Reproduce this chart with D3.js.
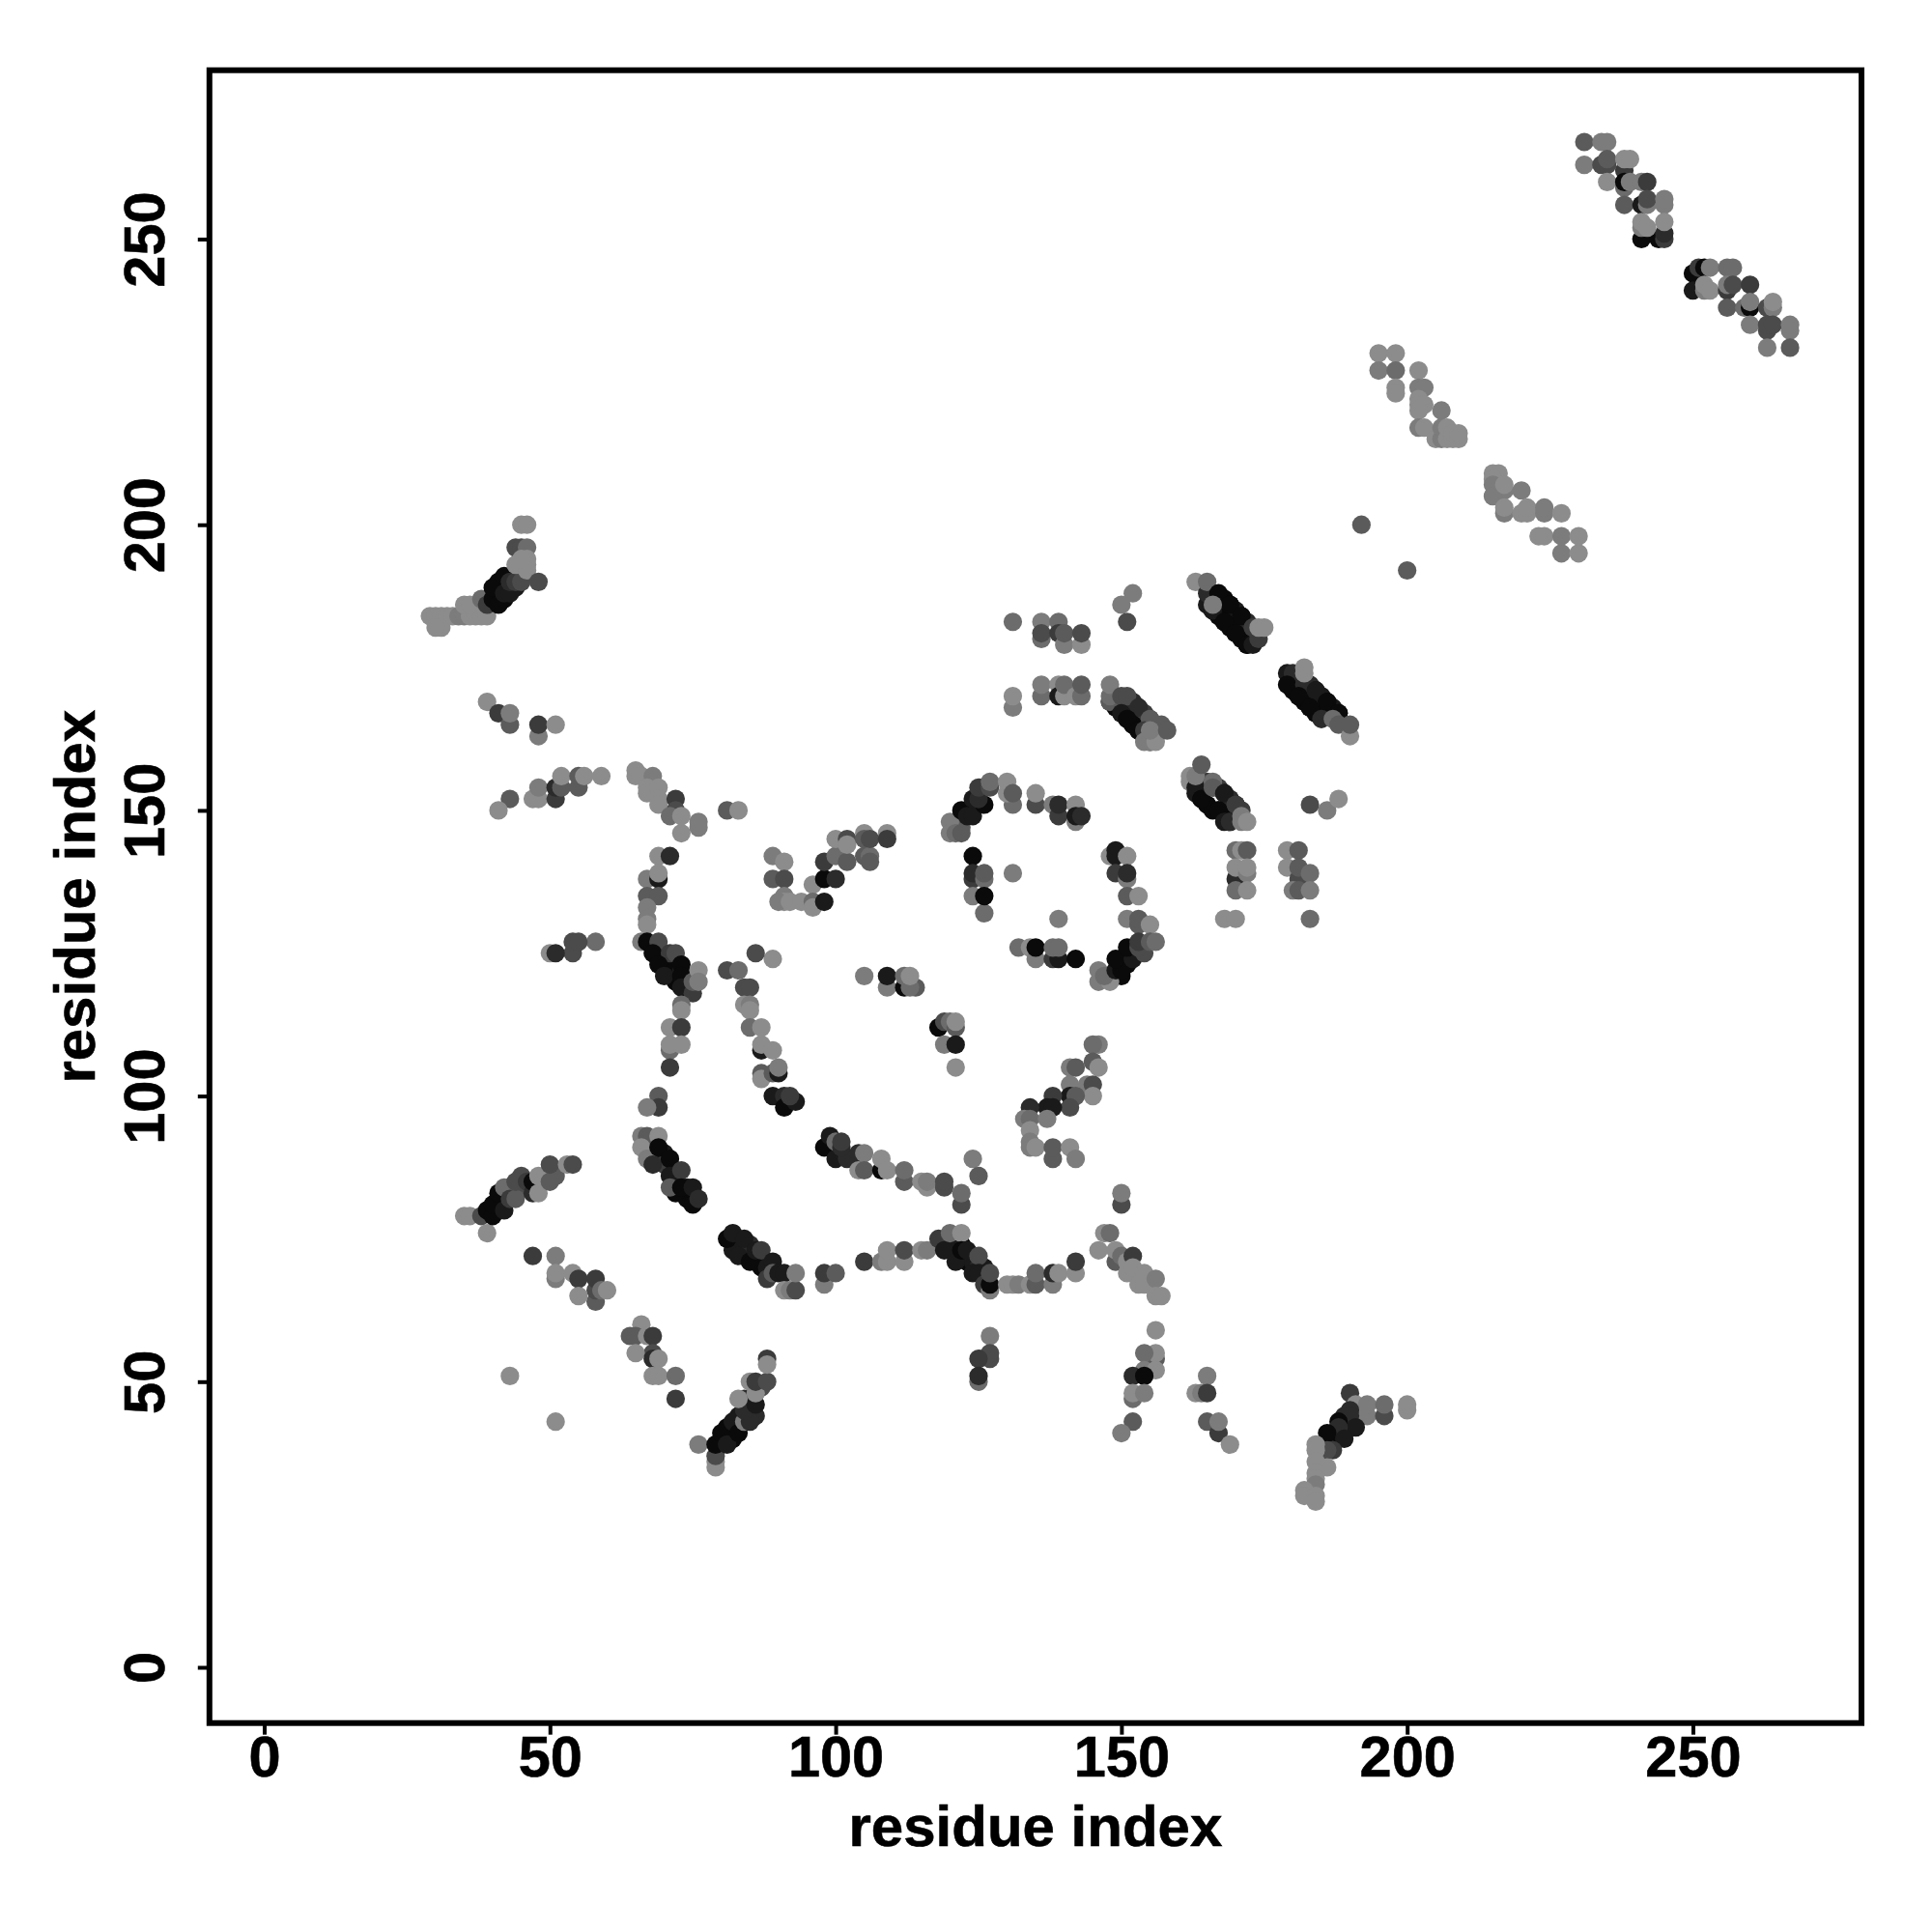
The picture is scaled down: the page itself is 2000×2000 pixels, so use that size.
<!DOCTYPE html>
<html><head><meta charset="utf-8">
<style>html,body{margin:0;padding:0;background:#fff}svg{display:block}</style>
<script src="https://cdn.jsdelivr.net/npm/d3@7"></script>
</head><body><svg id="c" width="2000" height="2000"></svg>
<script>
// each entry: [residue x, residue y, contact score 0 (weak) .. 8 (strong)]
const denseCore=[[148,169,6],[149,168,8],[150,167,8],[151,166,8],[152,165,8],[153,164,8],[154,163,7],[155,162,6],[152,169,6],[153,168,6],[154,167,5],[155,166,4],[156,165,4],[157,165,3],[165,186,7],[166,185,8],[167,184,8],[168,183,8],[169,182,8],[170,181,8],[171,180,8],[172,179,8],[168,187,8],[169,186,8],[170,185,7],[171,184,8],[172,183,6],[173,182,6],[174,181,5],[180,171,8],[181,170,8],[182,169,8],[183,168,8],[184,167,8],[181,173,7],[182,172,7],[183,172,6],[184,171,7],[185,170,7],[186,169,8],[187,168,7],[188,167,8],[163,153,7],[164,152,8],[165,151,8],[166,150,8],[167,150,8],[168,149,8],[169,148,7],[165,155,5],[166,154,4],[167,154,5],[168,153,7],[169,152,6],[170,151,6],[171,150,5],[41,188,8],[42,187,8],[43,189,8],[44,189,7],[41,190,8],[40,80,8],[41,81,7],[42,82,8],[43,84,6],[44,83,6],[45,85,5],[46,84,4],[45,86,4],[80,39,8],[81,40,8],[81,42,8],[82,40,8],[82,41,7],[83,44,7],[83,42,7],[84,44,5],[85,45,6],[85,47,5],[86,44,6],[87,49,4],[82,73,7],[84,72,7],[85,74,6],[87,70,8],[88,70,7],[122,72,8],[123,71,8],[124,71,7],[125,70,6],[126,68,8],[126,70,7],[122,74,8],[121,74,7],[187,41,8],[187,39,7],[188,40,7],[188,41,8],[189,41,7],[189,43,7],[190,43,7],[189,44,6],[68,126,8],[69,125,8],[70,124,8],[71,123,7],[72,122,8],[72,120,8],[71,122,8],[74,120,7],[73,122,7],[70,90,7],[72,87,8],[72,85,7],[74,84,7],[70,88,5],[74,82,8],[150,124,7],[151,123,8],[150,121,8],[152,126,7]];
const topHook=[[29,184,0],[30,184,0],[31,184,0],[32,184,0],[31,182,0],[30,182,0],[33,184,0],[34,184,1],[35,184,1],[36,184,0],[37,184,0],[38,184,0],[39,184,0],[35,186,0],[36,186,0],[38,187,2],[39,186,5],[40,187,8],[41,186,8],[40,189,8],[42,188,7],[42,191,8],[43,188,7],[43,190,6],[44,190,5],[45,190,4],[44,196,4],[45,196,4],[46,196,2],[45,200,0],[46,200,0],[44,193,0],[46,193,0],[46,194,0],[46,192,0],[45,194,0],[48,190,4]];
const leftUpper=[[39,169,0],[41,167,5],[43,165,3],[43,167,1],[48,163,1],[48,165,5],[51,165,0],[43,152,3],[41,150,0],[47,152,0],[48,152,0],[48,154,1],[51,152,5],[51,154,6],[52,154,3],[52,156,0],[55,154,3],[55,156,3],[56,156,0],[59,156,0]];
const stripeD=[[65,157,0],[65,156,0],[66,156,0],[68,156,1],[67,154,0],[67,153,0],[69,154,0],[69,152,0],[69,151,0],[72,152,5],[72,150,4],[71,149,2],[73,149,0],[73,146,0],[76,147,1],[76,148,1],[81,150,3],[83,150,0]];
const stripeE=[[69,142,0],[71,142,6],[67,138,1],[69,138,7],[69,139,0],[67,135,3],[69,135,3],[67,133,1],[67,131,1],[67,130,0]];
const stripeF=[[58,127,2],[54,125,4],[54,127,4],[55,127,4],[50,125,0],[51,125,6]];
const stripeG=[[66,127,1],[67,127,8],[69,127,4],[68,125,8],[71,125,5],[72,125,4],[69,123,8],[73,123,8],[70,121,7],[73,121,8],[73,119,7],[75,118,5],[75,120,3],[76,122,0],[76,120,1],[73,116,2],[73,115,0],[71,112,0],[73,112,5],[71,108,2],[71,109,0],[73,109,0],[71,105,5],[81,122,4],[83,122,2],[89,124,0],[86,125,4],[84,119,4],[85,119,4],[84,116,0],[85,116,1],[85,115,0],[85,112,2],[87,112,0],[87,108,7],[87,109,0],[89,108,0],[87,104,3],[87,103,0],[89,104,3],[90,104,7],[90,105,1],[89,100,7],[91,100,6],[91,98,8],[93,99,7],[92,100,5],[105,121,1]];
const stripeI=[[69,100,3],[69,98,5],[67,98,1],[66,93,1],[67,93,3],[69,93,0],[66,91,0],[67,89,1],[69,91,8],[68,88,6],[71,89,8],[71,86,7],[73,87,5],[72,83,8],[71,84,3],[73,84,8],[75,84,7],[75,81,8],[76,82,6]];
const stripeJ=[[35,79,0],[36,79,0],[38,79,4],[39,76,0],[39,80,8],[40,79,8],[40,81,8],[41,83,8],[42,80,7],[42,84,2],[43,82,5],[44,82,3],[44,85,4],[46,85,5],[47,83,6],[47,85,8],[48,83,0],[48,86,0],[50,85,3],[51,86,3],[50,88,4],[53,88,0],[54,88,4]];
const stripeK=[[47,72,5],[51,72,1],[51,68,1],[51,69,0],[54,69,0],[55,68,5],[58,64,3],[58,66,4],[58,68,5],[55,65,0],[59,66,2],[60,66,0]];
const stripeL=[[66,60,0],[64,58,3],[65,58,3],[67,58,0],[68,58,5],[68,55,4],[65,55,0],[68,54,6],[69,54,0],[68,51,0],[69,51,0],[72,51,2],[72,47,5],[43,51,0],[51,43,0]];
const stripeM=[[76,39,1],[79,35,0],[79,36,0],[79,37,4],[79,39,8],[80,41,8],[81,39,7],[82,43,7],[83,41,8],[84,43,1],[85,43,6],[84,45,6],[84,47,6],[86,46,7],[83,47,0],[86,48,0],[85,50,0],[86,50,5],[88,50,4],[88,54,5],[88,53,0]];
const arcN=[[81,75,8],[82,76,7],[83,72,7],[84,75,7],[85,71,8],[86,73,7],[87,73,5],[88,68,5],[89,71,7],[89,69,3],[90,69,7],[91,69,7],[91,66,0],[92,66,1],[93,66,4],[93,69,1],[98,67,1],[98,69,5],[100,69,3],[105,71,5],[108,71,1],[109,71,0],[109,73,0],[112,71,0],[112,73,4],[115,73,0],[116,73,1],[118,75,5],[119,73,7],[120,76,2],[122,76,0],[121,71,7],[122,73,8],[123,73,7],[125,72,4],[124,69,7],[125,69,7],[126,67,5],[127,66,1],[127,67,8],[127,69,4],[130,67,0],[131,67,0],[132,67,1],[134,67,0],[135,67,3],[135,69,2],[138,67,1],[138,69,6],[139,69,0],[142,69,0],[142,71,5],[146,73,0],[147,76,0],[148,76,2],[149,71,3],[149,73,0],[150,72,2],[151,71,0],[151,69,0],[152,72,5],[152,70,0],[153,67,0],[154,69,0],[154,67,0],[156,68,1],[156,65,0],[157,65,0],[150,81,4],[150,83,1]];
const curveO=[[98,91,8],[99,93,7],[100,89,7],[102,89,6],[100,92,2],[101,91,6],[101,92,5],[104,90,6],[105,90,1],[104,87,0],[105,87,3],[108,87,8],[108,89,0],[109,87,0],[112,85,3],[112,87,2],[115,85,0],[116,84,0],[116,85,1],[119,84,4],[119,85,4],[122,81,4],[122,83,2],[124,89,1],[125,86,3]];
const lowerBits=[[127,58,1],[127,54,4],[127,55,4],[125,54,5],[125,50,2],[125,51,6],[156,59,0],[156,54,3],[156,55,0],[154,55,2],[154,52,1],[156,52,0],[152,51,6],[154,51,8],[152,47,2],[152,48,0],[154,48,1],[152,43,3],[150,41,1],[165,51,1],[163,48,0],[164,48,1],[165,48,5],[165,43,3],[167,41,5],[167,43,1],[169,39,0]];
const tailP=[[190,48,5],[191,46,0],[193,44,1],[193,46,1],[196,44,4],[196,46,2],[200,45,0],[200,46,0],[190,45,6],[190,44,6],[188,43,8],[191,42,7],[188,42,6],[186,41,8],[189,40,7],[187,38,5],[186,38,4],[184,39,0],[184,38,0],[184,36,0],[186,35,0],[184,34,0],[184,33,0],[184,32,1],[182,31,0],[182,30,0],[184,30,0],[184,29,0]];
const stripeR=[[89,142,1],[91,141,0],[89,138,3],[91,138,4],[91,135,1],[91,134,0],[90,134,1],[92,134,0],[94,134,0],[96,137,0],[96,134,2],[96,133,0],[98,134,7],[98,138,8],[100,138,6],[98,141,5],[100,142,2],[102,141,3],[100,145,0],[102,145,4],[102,144,0],[105,146,0],[105,142,3],[105,145,3],[106,142,2],[106,145,4],[106,141,3],[109,146,0],[109,145,5]];
const ringTop=[[122,147,3],[120,148,1],[120,146,1],[121,146,2],[122,146,3],[122,150,8],[123,149,7],[124,149,7],[124,152,7],[126,151,8],[125,152,6],[125,154,5],[127,154,4],[127,155,2],[131,151,2],[130,155,0],[130,153,0],[131,153,3],[135,151,4],[135,153,0],[138,151,1],[139,149,5],[139,151,6],[142,148,1],[142,151,0],[142,149,7],[143,149,6]];
const ringLeft=[[124,142,8],[124,138,5],[124,139,6],[126,138,2],[126,139,3],[124,135,1],[126,132,2],[126,135,8],[131,139,1],[139,131,1],[132,126,2],[134,126,0],[135,124,1],[135,126,8],[138,124,5],[139,124,7],[138,126,2],[139,126,2],[142,124,8]];
const ringRight=[[148,142,0],[149,143,7],[149,142,7],[151,142,0],[149,139,5],[151,138,1],[151,139,6],[151,135,3],[153,135,0],[151,131,1],[153,130,3],[153,131,3],[155,130,0],[146,120,1],[148,120,0],[146,122,1],[147,121,2],[149,122,7],[150,122,8],[149,124,8],[152,124,7],[151,126,8],[154,125,4],[153,126,4],[153,127,5],[155,127,3],[156,127,2]];
const centerBits=[[109,119,1],[109,121,7],[112,119,8],[112,121,2],[114,119,3],[113,119,2],[113,121,0],[118,112,8],[119,113,4],[120,113,2],[121,112,3],[121,113,0],[119,109,1],[121,109,7],[121,105,0]];
const clusterQ=[[146,109,1],[145,109,2],[145,106,3],[146,105,0],[141,105,1],[142,105,3],[141,102,1],[144,102,1],[145,102,4],[145,100,0],[141,100,7],[142,100,3],[138,100,5],[141,98,4],[137,98,7],[138,98,7],[134,98,6],[133,96,1],[134,96,2],[134,94,0],[134,91,1],[134,92,1],[135,91,0],[137,96,1],[138,89,3],[138,91,3],[141,91,0],[142,89,1]];
const blocksUpper=[[131,183,2],[136,183,1],[139,183,2],[136,180,2],[136,181,4],[139,181,5],[140,179,1],[140,181,3],[143,179,0],[143,181,4],[152,188,1],[150,186,1],[151,183,4],[131,168,1],[131,170,0],[136,170,2],[136,172,1],[139,172,0],[139,170,7],[140,170,0],[140,172,2],[142,170,0],[143,170,2],[143,172,3]];
const diagA=[[148,169,3],[148,170,2],[148,172,1],[150,170,4],[151,170,4],[153,168,6],[150,167,7],[152,165,8],[151,166,8],[153,164,8],[155,166,3],[154,164,5],[154,162,1],[155,162,1],[156,162,0],[155,164,1],[158,164,3]];
const diagB=[[163,190,0],[165,188,6],[165,190,2],[167,188,8],[169,186,8],[171,184,8],[166,185,7],[166,186,1],[168,183,8],[170,181,8],[172,179,8],[173,179,7],[174,180,5],[173,182,5],[174,182,0],[175,182,0]];
const diagC=[[179,174,7],[180,174,6],[179,172,8],[182,172,6],[181,170,8],[184,171,7],[186,169,8],[183,168,8],[185,166,6],[188,167,8],[187,166,2],[188,165,3],[190,163,0],[190,165,3],[182,174,0],[182,175,0]];
const diagD=[[162,155,0],[162,156,0],[163,154,7],[164,152,8],[163,156,1],[164,158,3],[166,155,2],[166,154,3],[168,153,7],[167,150,8],[170,151,5],[168,148,7],[169,148,6],[171,149,1],[171,148,1],[172,148,0],[183,151,4],[186,150,1],[188,152,0]];
const blocksMid=[[170,138,6],[170,143,2],[171,143,0],[172,143,3],[170,140,0],[172,139,1],[172,140,0],[170,136,2],[172,136,0],[168,131,0],[170,131,0],[179,143,0],[181,143,3],[179,140,0],[181,138,4],[181,140,3],[183,139,2],[180,136,1],[181,136,3],[183,136,1],[183,131,2]];
const helixTop=[[231,267,3],[234,267,1],[235,267,1],[231,263,1],[234,263,4],[235,263,4],[235,264,3],[235,260,0],[238,262,5],[238,264,0],[239,264,0],[238,259,2],[238,260,8],[239,260,1],[241,260,1],[242,260,5],[238,256,3],[241,256,7],[242,256,1],[242,257,4],[245,256,1],[245,257,1],[241,250,8],[244,250,8],[245,250,5],[245,251,6],[241,252,1],[241,253,0],[242,252,0],[245,253,0]];
const helixLow=[[250,244,8],[251,245,5],[252,245,8],[253,245,1],[250,241,7],[252,241,1],[252,242,0],[253,241,0],[256,245,2],[257,245,2],[256,241,5],[256,242,1],[257,242,4],[256,238,3],[259,238,2],[260,242,5],[260,238,8],[260,239,1],[263,238,4],[264,238,1],[264,239,0],[260,235,1],[263,234,4],[263,235,4],[264,235,4],[267,234,1],[267,235,1],[263,231,1],[267,231,3]];
const lightUpper=[[195,230,0],[198,230,0],[195,227,1],[198,227,2],[198,224,0],[198,223,0],[202,227,0],[202,224,1],[203,224,1],[202,222,0],[202,221,0],[203,221,0],[202,220,0],[206,220,1],[202,217,1],[203,217,0],[205,215,0],[206,215,1],[206,217,1],[207,215,0],[207,217,0],[208,215,0],[208,216,0],[209,215,0],[209,216,0]];
const lightLower=[[215,209,0],[216,209,0],[215,208,0],[215,207,1],[215,205,1],[217,206,1],[217,207,0],[220,206,1],[217,202,1],[217,203,0],[220,202,0],[221,202,0],[221,203,0],[224,202,1],[224,203,1],[227,202,0],[223,198,0],[224,198,0],[227,195,1],[227,198,1],[230,195,0],[230,198,0],[192,200,3],[200,192,3]];
const clusters=[denseCore,topHook,leftUpper,stripeD,stripeE,stripeF,stripeG,stripeI,stripeJ,stripeK,stripeL,stripeM,arcN,curveO,lowerBits,tailP,stripeR,ringTop,ringLeft,ringRight,centerBits,clusterQ,blocksUpper,diagA,diagB,diagC,diagD,blocksMid,helixTop,helixLow,lightUpper,lightLower];
const tickValues=[0,50,100,150,200,250];
const axisTitle="residue index";

const FONT='"Liberation Sans",Arial,sans-serif';
const svg=d3.select("#c");
const L=216.8,R=1927,T=72.7,B=1783.7;
const x=d3.scaleLinear().domain([-9.58,279.5]).range([L,R]);
const y=d3.scaleLinear().domain([-9.757,279.56]).range([B,T]);
const shade=d3.scaleLinear().domain([0,8]).range(["#8c8c8c","#0a0a0a"]);

svg.append("g").selectAll("circle").data(clusters.flat()).join("circle")
  .attr("cx",d=>x(d[0])).attr("cy",d=>y(d[1])).attr("r",9.6).attr("fill",d=>shade(d[2]));

const gx=svg.append("g").attr("transform",`translate(0,${B})`).call(d3.axisBottom(x).tickValues(tickValues).tickSize(12).tickFormat(d3.format("d")));
gx.select(".domain").remove();
gx.selectAll("line").attr("stroke","#000").attr("stroke-width",4);
gx.selectAll("text").attr("y",55).attr("dy",0).attr("fill","#000").attr("stroke","#000").attr("stroke-width",0.6)
  .style("font-family",FONT).style("font-weight","bold").style("font-size","59.5px");

const gy=svg.append("g").attr("transform",`translate(${L},0)`).call(d3.axisLeft(y).tickValues(tickValues).tickSize(12).tickFormat(d3.format("d")));
gy.select(".domain").remove();
gy.selectAll("line").attr("stroke","#000").attr("stroke-width",4);
gy.selectAll("text").attr("x",null).attr("y",null).attr("dy",0).attr("text-anchor","middle")
  .attr("transform",`translate(-47,0) rotate(-90)`).attr("fill","#000").attr("stroke","#000").attr("stroke-width",0.6)
  .style("font-family",FONT).style("font-weight","bold").style("font-size","59.5px");

svg.append("rect").attr("x",L).attr("y",T).attr("width",R-L).attr("height",B-T)
  .attr("fill","none").attr("stroke","#000").attr("stroke-width",6);

svg.append("text").attr("x",(L+R)/2).attr("y",1911).attr("text-anchor","middle").text(axisTitle)
  .attr("fill","#000").attr("stroke","#000").attr("stroke-width",0.6).style("font-family",FONT).style("font-weight","bold").style("font-size","60px");
svg.append("text").attr("transform",`translate(98,${(T+B)/2}) rotate(-90)`).attr("text-anchor","middle").text(axisTitle)
  .attr("fill","#000").attr("stroke","#000").attr("stroke-width",0.6).style("font-family",FONT).style("font-weight","bold").style("font-size","60px");
</script></body></html>
